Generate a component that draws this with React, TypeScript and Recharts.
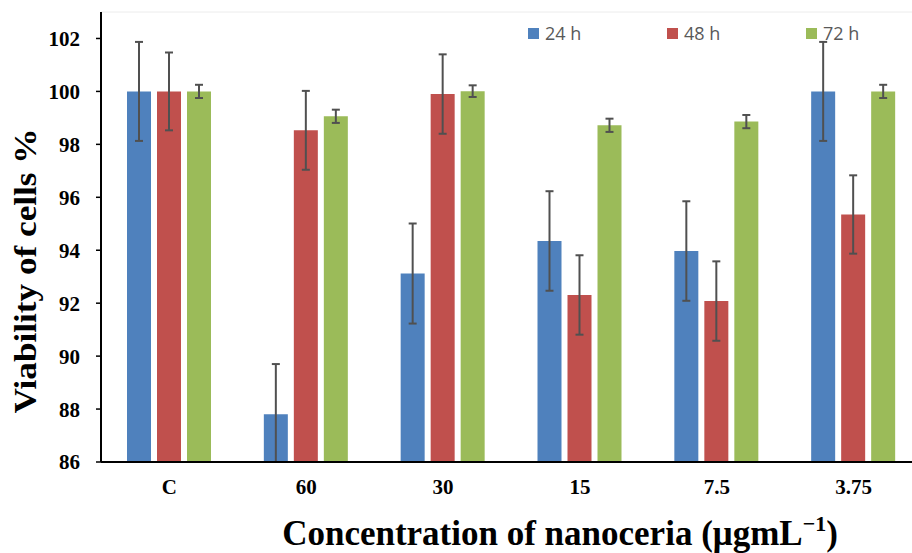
import { Bar, BarChart, ErrorBar, Label, Legend, ReferenceLine, XAxis, YAxis } from "recharts";

const categories = ["C", "60", "30", "15", "7.5", "3.75"];
const h24 = [100, 87.8, 93.12, 94.35, 93.97, 100];
const h48 = [100, 98.53, 99.9, 92.31, 92.08, 95.35];
const h72 = [100, 99.06, 100.01, 98.72, 98.86, 100];
const err24 = [1.87, 1.9, 1.89, 1.88, 1.88, 1.87];
const err48 = [1.47, 1.49, 1.5, 1.5, 1.5, 1.48];
const err72 = [0.25, 0.25, 0.22, 0.25, 0.25, 0.25];
const yTicks = [86, 88, 90, 92, 94, 96, 98, 100, 102];
const yMin = 86;

const series = [
    { key: "h24", err: "e24", name: "24 h", color: "#4F81BD" },
    { key: "h48", err: "e48", name: "48 h", color: "#C0504D" },
    { key: "h72", err: "e72", name: "72 h", color: "#9BBB59" },
];

// lower whisker stops at the axis floor, like the clipped one in the original
const whisker = (v: number, e: number) => [Math.min(e, v - yMin), e];

const data = categories.map((c, i) => ({
    name: c,
    h24: h24[i],
    h48: h48[i],
    h72: h72[i],
    e24: whisker(h24[i], err24[i]),
    e48: whisker(h48[i], err48[i]),
    e72: whisker(h72[i], err72[i]),
}));

const serif = "'Liberation Serif', 'Times New Roman', serif";

const LegendBox = ({ payload }: any) => (
    <div style={{ display: "flex" }}>
        {(payload || []).map((p: any) => (
            <div key={p.value} style={{ width: 139, display: "flex", alignItems: "center" }}>
                <span style={{ width: 11, height: 11, background: p.color, marginRight: 6, display: "inline-block" }} />
                <span style={{ fontFamily: "'Open Sans', sans-serif", fontSize: 18, color: "#595959", lineHeight: "20px" }}>
                    {p.value}
                </span>
            </div>
        ))}
    </div>
);

const App = () => {
    return (
        <div style={{ position: "fixed", left: 0, top: 0, width: 912, height: 553, overflow: "hidden", background: "#fff" }}>
            <BarChart
                width={930}
                height={553}
                data={data}
                margin={{ top: 12, right: 8, left: 0, bottom: 0 }}
                barSize={24}
                barGap={6}
            >
                <XAxis
                    dataKey="name"
                    height={91}
                    tickLine={false}
                    tickSize={0}
                    tickMargin={17}
                    axisLine={{ stroke: "#000", strokeWidth: 2 }}
                    tick={{ fill: "#000", fontFamily: serif, fontWeight: "bold", fontSize: 21 }}
                >
                    <Label
                        content={() => (
                            <text x={560} y={545} textAnchor="middle" fontFamily={serif} fontWeight="bold" fontSize={35} fill="#000">
                                Concentration of nanoceria (μgmL
                                <tspan fontSize={22} dy={-14}>−1</tspan>
                                <tspan dy={14}>)</tspan>
                            </text>
                        )}
                    />
                </XAxis>
                <YAxis
                    width={101}
                    domain={[yMin, 103]}
                    ticks={yTicks}
                    allowDataOverflow
                    tickSize={5}
                    tickMargin={16}
                    axisLine={{ stroke: "#000", strokeWidth: 2 }}
                    tickLine={{ stroke: "#000", strokeWidth: 1.5 }}
                    tick={{ fill: "#000", fontFamily: serif, fontWeight: "bold", fontSize: 21 }}
                >
                    <Label
                        content={() => (
                            <text
                                x={25}
                                y={271}
                                transform="rotate(-90 25 271)"
                                textAnchor="middle"
                                dominantBaseline="central"
                                fontFamily={serif}
                                fontWeight="bold"
                                fontSize={31}
                                fill="#000"
                                textLength={285}
                                lengthAdjust="spacingAndGlyphs"
                            >
                                Viability of cells %
                            </text>
                        )}
                    />
                </YAxis>
                <ReferenceLine y={103} stroke="#ececec" />
                <Legend
                    layout="horizontal"
                    verticalAlign="middle"
                    align="center"
                    content={<LegendBox />}
                    wrapperStyle={{ position: "absolute", top: 23, left: 528, width: 420, height: 20 }}
                />
                {series.map((s) => (
                    <Bar key={s.key} dataKey={s.key} name={s.name} fill={s.color} isAnimationActive={false}>
                        <ErrorBar dataKey={s.err} width={4} stroke="#505050" strokeWidth={2} direction="y" />
                    </Bar>
                ))}
            </BarChart>
        </div>
    );
};

export default App;
